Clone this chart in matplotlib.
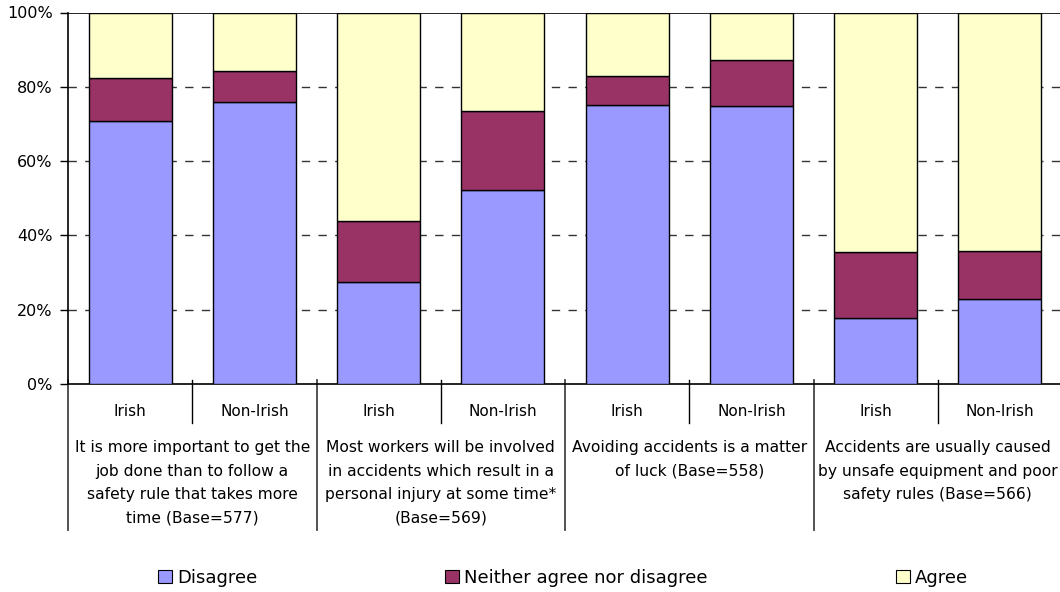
import matplotlib
matplotlib.use("Agg")
import matplotlib.pyplot as plt
from matplotlib.patches import Patch
from matplotlib.ticker import PercentFormatter

plt.rcParams['font.family'] = ['DejaVu Sans']

# Survey statements and the two groups answering each
statements = [
    "It is more important to get the\njob done than to follow a\nsafety rule that takes more\ntime (Base=577)",
    "Most workers will be involved\nin accidents which result in a\npersonal injury at some time*\n(Base=569)",
    "Avoiding accidents is a matter\nof luck (Base=558)",
    "Accidents are usually caused\nby unsafe equipment and poor\nsafety rules (Base=566)",
]
groups = ["Irish", "Non-Irish"]

# Percentages per bar (Irish, Non-Irish for each statement)
disagree = [70.8, 75.9, 27.5, 52.2, 75.1, 74.7, 17.9, 23.0]
neither = [11.6, 8.4, 16.5, 21.3, 7.9, 12.6, 17.6, 12.9]
agree = [100 - d - n for d, n in zip(disagree, neither)]

colors = {"Disagree": "#9999FF", "Neither agree nor disagree": "#993366", "Agree": "#FFFFCC"}

W, H = 1060, 592
fig = plt.figure(figsize=(W / 100, H / 100), dpi=100)
ax = fig.add_axes([68 / W, 1 - 384 / H, 994 / W, 371.5 / H])

x = [i + 0.5 for i in range(len(disagree))]
bottom2 = [d + n for d, n in zip(disagree, neither)]
ax.bar(x, disagree, width=0.67, color=colors["Disagree"], edgecolor="black", linewidth=1, zorder=3)
ax.bar(x, neither, width=0.67, bottom=disagree, color=colors["Neither agree nor disagree"],
       edgecolor="black", linewidth=1, zorder=3)
ax.bar(x, agree, width=0.67, bottom=bottom2, color=colors["Agree"], edgecolor="black", linewidth=1, zorder=3)

ax.set_xlim(0, len(disagree))
ax.set_ylim(0, 100)
ax.set_yticks([0, 20, 40, 60, 80, 100])
ax.yaxis.set_major_formatter(PercentFormatter(decimals=0))
ax.tick_params(axis="y", labelsize=11.5, length=6, width=1, color="black", pad=5)
ax.set_xticks([])

# dashed gridlines between 0 and 100
for v in [20, 40, 60, 80]:
    ax.axhline(v, color="#333333", linestyle=(0, (6, 6)), linewidth=1, zorder=1)
ax.axhline(100, color="black", linewidth=1.2, zorder=1)

for s in ["top", "right"]:
    ax.spines[s].set_visible(False)
ax.spines["left"].set_linewidth(1.2)
ax.spines["bottom"].set_linewidth(1.2)

# category axis below the plot, in pixel offsets from the axis line
tr = ax.get_xaxis_transform()
def ay(py):
    return (384 - py) / 371.5

for i in range(len(disagree) + 1):
    if i % 2 == 0:
        ax.plot([i, i], [ay(380), ay(530)], color="#444444", lw=1.3, transform=tr, clip_on=False)
    else:
        ax.plot([i, i], [ay(380), ay(423)], color="black", lw=1.0, transform=tr, clip_on=False)

for i, xi in enumerate(x):
    ax.text(xi, ay(411), groups[i % 2], transform=tr, ha="center", va="center", fontsize=11)

for j, label in enumerate(statements):
    ax.text(2 * j + 1, ay(440), label, transform=tr, ha="center", va="top",
            fontsize=11.2, linespacing=1.72)

# legend entries spread along the bottom
legend_pos = {"Disagree": 158, "Neither agree nor disagree": 445, "Agree": 896}
for name, px in legend_pos.items():
    fig.legend(handles=[Patch(facecolor=colors[name], edgecolor="black", linewidth=0.8)],
               labels=[name], loc="center left", bbox_to_anchor=(px / W, 1 - 578 / H),
               frameon=False, fontsize=13, handlelength=0.75, handleheight=0.75,
               handletextpad=0.3, borderpad=0, borderaxespad=0)

fig.savefig("out.png", dpi=100)
